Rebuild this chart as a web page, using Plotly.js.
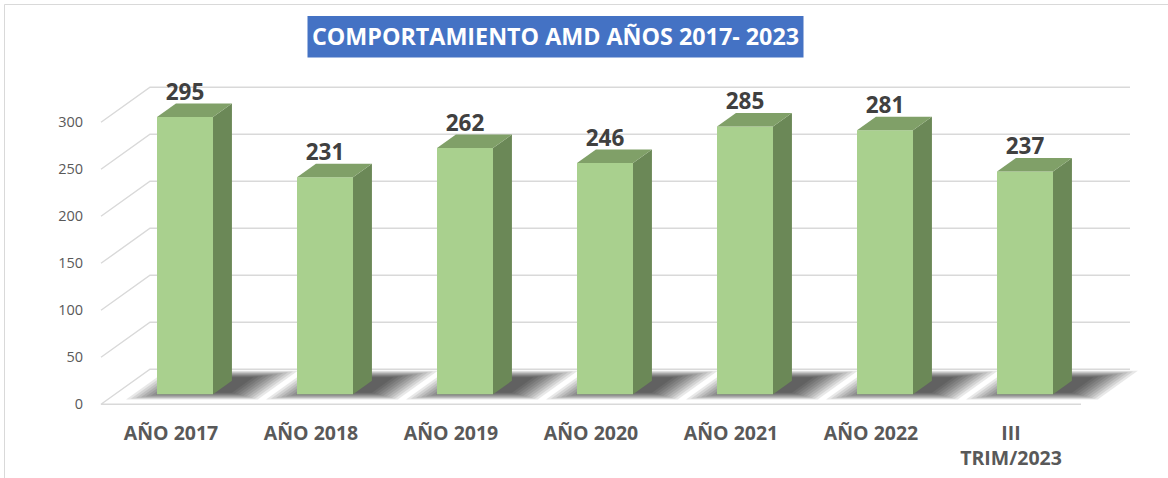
<!DOCTYPE html>
<html>
<head>
<meta charset="utf-8">
<script src="https://cdn.plot.ly/plotly-3.0.1.min.js"></script>
<style>
  html, body { margin: 0; padding: 0; background: #ffffff; }
  #chart { width: 1168px; height: 478px; }
</style>
</head>
<body>
<div id="chart"></div>
<script>
// ---- Data ----
const categories = ['AÑO 2017', 'AÑO 2018', 'AÑO 2019', 'AÑO 2020', 'AÑO 2021', 'AÑO 2022', 'III<br>TRIM/2023'];
const values = [295, 231, 262, 246, 285, 281, 237];
const yTicks = [0, 50, 100, 150, 200, 250, 300];
const chartTitle = 'COMPORTAMIENTO AMD AÑOS 2017- 2023';

// ---- Geometry of the pseudo-3D projection (in axis units) ----
const W = 1168, H = 478;
const PX_PER_X = 140, PX_PER_Y = 0.94;
const X0_PX = 171, Y0_PX = 404.3;          // front-plane origin
const DEPTH_X = 49 / PX_PER_X;             // full floor depth, x component
const DEPTH_Y = 35 / PX_PER_Y;             // full floor depth, y component
const F0 = 0.286, F1 = 0.672;              // bar front / back depth fractions
const HALF_W = 0.2;
const FLOOR_L = -0.5, FLOOR_R = 6.5;

const xRange = [-X0_PX / PX_PER_X, (W - X0_PX) / PX_PER_X];
const yRange = [(Y0_PX - H) / PX_PER_Y, Y0_PX / PX_PER_Y];

const colFront = '#A9D08E', colTop = '#80A068', colSide = '#6B8857';
const gridCol = '#D9D9D9';

function P(u, v, d) { return [u + d * DEPTH_X, v + d * DEPTH_Y]; }
function poly(pts, color, opacity, name) {
  const xs = pts.map(p => p[0]).concat([pts[0][0]]);
  const ys = pts.map(p => p[1]).concat([pts[0][1]]);
  return { type: 'scatter', mode: 'lines', x: xs, y: ys, fill: 'toself', fillcolor: color,
           line: { width: 0, color: color }, opacity: opacity, hoverinfo: 'skip', showlegend: false, name: name || '' };
}

const traces = [];

// gridlines: front-left -> back-left -> back-right
yTicks.forEach(v => {
  const a = P(FLOOR_L, v, 0), b = P(FLOOR_L, v, 1), c = P(FLOOR_R, v, 1);
  const xs = [a[0], b[0], c[0]], ys = [a[1], b[1], c[1]];
  if (v === 0) { const f = P(FLOOR_R, 0, 0); xs.unshift(f[0]); ys.unshift(f[1]); }
  traces.push({ type: 'scatter', mode: 'lines', x: xs, y: ys,
    line: { color: gridCol, width: 1.4 }, hoverinfo: 'skip', showlegend: false });
});

// soft shadows on the floor
values.forEach((v, i) => {
  const layers = 10;
  for (let k = 0; k < layers; k++) {
    const t = k / (layers - 1);
    const uc = i + 0.1, dc = 0.55;
    const hu = 0.47 - 0.25 * t, hd = 0.41 - 0.19 * t;
    const pts = [P(uc - hu, 0, dc - hd), P(uc + hu, 0, dc - hd), P(uc + hu, 0, dc + hd), P(uc - hu, 0, dc + hd)];
    traces.push(poly(pts, '#000000', 0.085));
  }
});

// bars
values.forEach((v, i) => {
  const xl = i - HALF_W, xr = i + HALF_W;
  const front = [P(xl, 0, F0), P(xr, 0, F0), P(xr, v, F0), P(xl, v, F0)];
  const side = [P(xr, 0, F0), P(xr, 0, F1), P(xr, v, F1), P(xr, v, F0)];
  const top = [P(xl, v, F0), P(xr, v, F0), P(xr, v, F1), P(xl, v, F1)];
  traces.push(poly(front, colFront, 1, categories[i]));
  traces.push(poly(side, colSide, 1));
  traces.push(poly(top, colTop, 1));
});

// data labels
traces.push({ type: 'scatter', mode: 'text',
  x: values.map((v, i) => P(i, v, F0)[0]),
  y: values.map((v, i) => P(i, v, F0)[1] + 24.5),
  text: values.map(String), textposition: 'middle center', cliponaxis: false,
  textfont: { family: 'Open Sans, sans-serif', size: 22.5, color: '#404040', weight: 'bold' },
  hoverinfo: 'skip', showlegend: false });

const layout = {
  width: W, height: H,
  margin: { l: 0, r: 0, t: 0, b: 0, pad: 0 },
  paper_bgcolor: '#ffffff', plot_bgcolor: 'rgba(0,0,0,0)',
  showlegend: false,
  title: { text: chartTitle, x: 555.5 / W, xanchor: 'center', y: 1 - 37 / H, yanchor: 'middle',
           font: { family: 'Open Sans, sans-serif', size: 23.3, color: '#ffffff', weight: 'bold' } },
  xaxis: { range: xRange, fixedrange: true, showgrid: false, zeroline: false, showline: false,
           tickmode: 'array', tickvals: categories.map((c, i) => i), ticktext: categories,
           ticks: 'outside', ticklen: 11, tickcolor: 'rgba(0,0,0,0)',
           anchor: 'free', position: (H - Y0_PX) / H,
           tickfont: { family: 'Open Sans, sans-serif', size: 19.5, color: '#595959', weight: 'bold' } },
  yaxis: { range: yRange, fixedrange: true, showgrid: false, zeroline: false, showline: false,
           tickmode: 'array', tickvals: yTicks, ticktext: yTicks.map(String),
           ticks: 'outside', ticklen: 14, tickcolor: 'rgba(0,0,0,0)',
           anchor: 'free', position: 100 / W,
           tickfont: { family: 'Open Sans, sans-serif', size: 14.5, color: '#595959' } },
  shapes: [
    { type: 'rect', xref: 'paper', yref: 'paper', x0: 4.5 / W, x1: 1.02, y0: -0.02, y1: 1 - 4.5 / H,
      line: { color: '#D9D9D9', width: 1 }, fillcolor: 'rgba(0,0,0,0)', layer: 'below' },
    { type: 'rect', xref: 'paper', yref: 'paper', x0: 307.5 / W, x1: 803.5 / W, y0: 1 - 57.5 / H, y1: 1 - 16 / H,
      line: { width: 0 }, fillcolor: '#4472C4', layer: 'above' }
  ]
};

Plotly.newPlot('chart', traces, layout, { displayModeBar: false, staticPlot: true });
</script>
</body>
</html>
